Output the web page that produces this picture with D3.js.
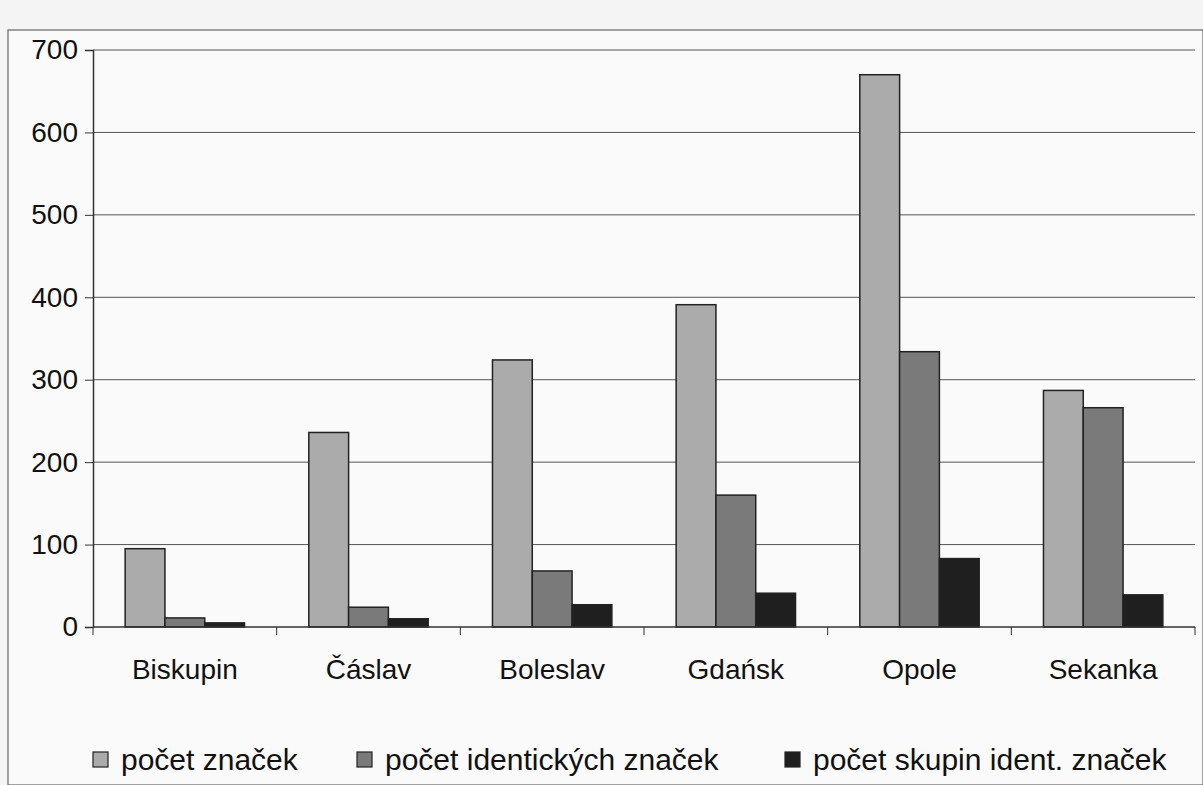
<!DOCTYPE html>
<html>
<head>
<meta charset="utf-8">
<script src="https://cdn.jsdelivr.net/npm/d3@7"></script>
<style>
  html, body { margin: 0; padding: 0; background: #f4f4f4; }
  #chart { width: 1203px; height: 785px; }
  text { font-family: Arial, "Liberation Sans", sans-serif; fill: #111; }
</style>
</head>
<body>
<div id="chart"></div>
<script>
const categories = ["Biskupin", "Čáslav", "Boleslav", "Gdańsk", "Opole", "Sekanka"];
const seriesNames = ["počet značek", "počet identických značek", "počet skupin ident. značek"];
const pocetZnacek = [95, 236, 324, 391, 670, 287];
const pocetIdentickych = [11, 24, 68, 160, 334, 266];
const pocetSkupin = [5, 10, 27, 41, 83, 39];
const yTicks = [0, 100, 200, 300, 400, 500, 600, 700];
const colors = ["#ababab", "#7a7a7a", "#1f1f1f"];

const data = categories.map((c, i) => ({
    name: c,
    values: [pocetZnacek[i], pocetIdentickych[i], pocetSkupin[i]]
}));

const W = 1203, H = 785;
const margin = { top: 50, right: 8, bottom: 158, left: 93 };
const width = W - margin.left - margin.right;
const height = H - margin.top - margin.bottom;

const svg = d3.select("#chart").append("svg")
    .attr("width", W).attr("height", H);

// page frame seen in the scan
svg.append("rect")
    .attr("x", 8).attr("y", 30).attr("width", W - 8).attr("height", H - 30)
    .attr("fill", "#fafafa").attr("stroke", "#666").attr("stroke-width", 1.2);

const g = svg.append("g").attr("transform", `translate(${margin.left},${margin.top})`);

const x0 = d3.scaleBand().domain(categories).range([0, width]).paddingInner(0.35).paddingOuter(0.175);
const x1 = d3.scaleBand().domain(seriesNames).range([0, x0.bandwidth()]);
const y = d3.scaleLinear().domain([0, 700]).range([height, 0]);

// gridlines
g.append("g").selectAll("line").data(yTicks.slice(1)).enter().append("line")
    .attr("x1", 0).attr("x2", width)
    .attr("y1", d => y(d)).attr("y2", d => y(d))
    .attr("stroke", "#555").attr("stroke-width", 1);

// bars
const groups = g.selectAll(".grp").data(data).enter().append("g")
    .attr("transform", d => `translate(${x0(d.name)},0)`);
groups.selectAll("rect").data(d => d.values.map((v, i) => ({ s: seriesNames[i], v, i })))
    .enter().append("rect")
    .attr("x", d => x1(d.s))
    .attr("y", d => y(d.v))
    .attr("width", x1.bandwidth())
    .attr("height", d => height - y(d.v))
    .attr("fill", d => colors[d.i])
    .attr("stroke", "#222").attr("stroke-width", 1.5);

// y axis
const yAxis = g.append("g")
    .call(d3.axisLeft(y).tickValues(yTicks).tickSize(8).tickPadding(7));
yAxis.select(".domain").attr("stroke", "#333").attr("stroke-width", 1.5);
yAxis.selectAll("line").attr("stroke", "#333");
yAxis.selectAll("text").style("font-size", "28px").attr("fill", "#111");

// x axis with ticks at category boundaries
const xAxis = g.append("g").attr("transform", `translate(0,${height})`);
xAxis.append("line").attr("x1", 0).attr("x2", width).attr("stroke", "#333").attr("stroke-width", 1.5);
const step = x0.step();
xAxis.selectAll(".tk").data(d3.range(categories.length + 1)).enter().append("line")
    .attr("x1", i => i * step).attr("x2", i => i * step)
    .attr("y1", 0).attr("y2", 8).attr("stroke", "#333");
xAxis.selectAll(".lbl").data(categories).enter().append("text")
    .attr("x", d => x0(d) + x0.bandwidth() / 2)
    .attr("y", 52)
    .attr("text-anchor", "middle")
    .style("font-size", "28px")
    .text(d => d);

// legend
const legendX = [93, 357, 785];
const legend = svg.append("g").attr("transform", "translate(0,770)");
seriesNames.forEach((s, i) => {
    legend.append("rect")
        .attr("x", legendX[i]).attr("y", -18).attr("width", 15).attr("height", 15)
        .attr("fill", colors[i]).attr("stroke", "#222").attr("stroke-width", 1.2);
    legend.append("text")
        .attr("x", legendX[i] + 28).attr("y", 0)
        .style("font-size", "30px")
        .text(s);
});
</script>
</body>
</html>
